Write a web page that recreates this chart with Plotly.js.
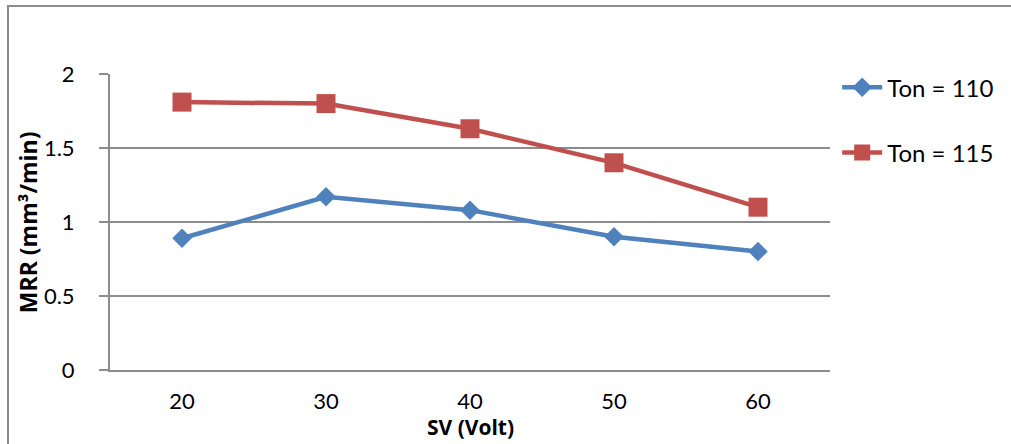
<!DOCTYPE html>
<html>
<head>
<meta charset="utf-8">
<script src="https://cdn.plot.ly/plotly-3.0.1.min.js"></script>
<style>
html,body{margin:0;padding:0;background:#fff;overflow:hidden;}
#frame{position:absolute;left:7px;top:5px;width:1200px;height:600px;border:2px solid #8c8c8c;box-sizing:border-box;pointer-events:none;z-index:10;}
#chart{position:absolute;left:0;top:0;width:1011px;height:444px;}
</style>
</head>
<body>
<div id="chart"></div>
<div id="frame"></div>
<script>
var categories = ['20', '30', '40', '50', '60'];
var ton110 = [0.89, 1.17, 1.08, 0.90, 0.80];
var ton115 = [1.81, 1.80, 1.63, 1.40, 1.10];
var yTicks = [0, 0.5, 1, 1.5, 2];
var yTickText = ['0', '0.5', '1', '1.5', '2'];
var seriesNames = ['Ton = 110', 'Ton = 115'];
var xTitle = 'SV (Volt)';
var yTitle = 'MRR (mm³/min)';

var FONT = 'Lato, "Open Sans", sans-serif';
var TFONT = '"Open Sans", Lato, sans-serif';

var traces = [
  {
    x: categories, y: ton110, name: seriesNames[0], type: 'scatter', mode: 'lines+markers',
    line: {color: '#4F81BD', width: 4.5},
    marker: {symbol: 'diamond', size: 15, color: '#4F81BD'},
    legendgroup: 'a'
  },
  {
    x: categories, y: ton115, name: seriesNames[1], type: 'scatter', mode: 'lines+markers',
    line: {color: '#C0504D', width: 4.5},
    marker: {symbol: 'square', size: 19, color: '#C0504D'},
    legendgroup: 'b'
  }
];

var layout = {
  width: 1011, height: 444,
  margin: {l: 110, r: 179, t: 74, b: 74},
  paper_bgcolor: '#ffffff', plot_bgcolor: '#ffffff',
  font: {family: FONT, size: 23, color: '#000'},
  showlegend: true,
  legend: {
    x: 1.01, xanchor: 'left', y: 1.03, yanchor: 'top',
    font: {family: FONT, size: 24, color: '#000'},
    tracegroupgap: 31, itemwidth: 40, bgcolor: 'rgba(0,0,0,0)'
  },
  xaxis: {
    type: 'category', range: [-0.5, 4.5],
    showgrid: false, zeroline: false,
    showline: true, linecolor: '#8c8c8c', linewidth: 2,
    ticks: '', ticklabelstandoff: 11,
    tickfont: {family: FONT, size: 22}
  },
  yaxis: {
    range: [0, 2], tickvals: yTicks, ticktext: yTickText,
    showgrid: true, gridcolor: '#8c8c8c', gridwidth: 1.5,
    zeroline: false,
    showline: true, linecolor: '#8c8c8c', linewidth: 2,
    ticks: 'outside', ticklen: 9, tickcolor: '#8c8c8c', tickwidth: 1.5,
    ticklabelstandoff: 20,
    tickfont: {family: FONT, size: 22}
  },
  annotations: [
    {
      text: '<b>' + yTitle + '</b>', textangle: -90,
      xref: 'paper', yref: 'paper', x: -0.1136, y: 0.5,
      xanchor: 'center', yanchor: 'middle', showarrow: false,
      font: {family: TFONT, size: 23, color: '#000'}
    },
    {
      text: '<b>' + xTitle + '</b>',
      xref: 'paper', yref: 'paper', x: 0.5, y: -0.194,
      xanchor: 'center', yanchor: 'middle', showarrow: false,
      font: {family: TFONT, size: 21, color: '#000'}
    }
  ]
};

Plotly.newPlot('chart', traces, layout, {displayModeBar: false, staticPlot: true});
</script>
</body>
</html>
